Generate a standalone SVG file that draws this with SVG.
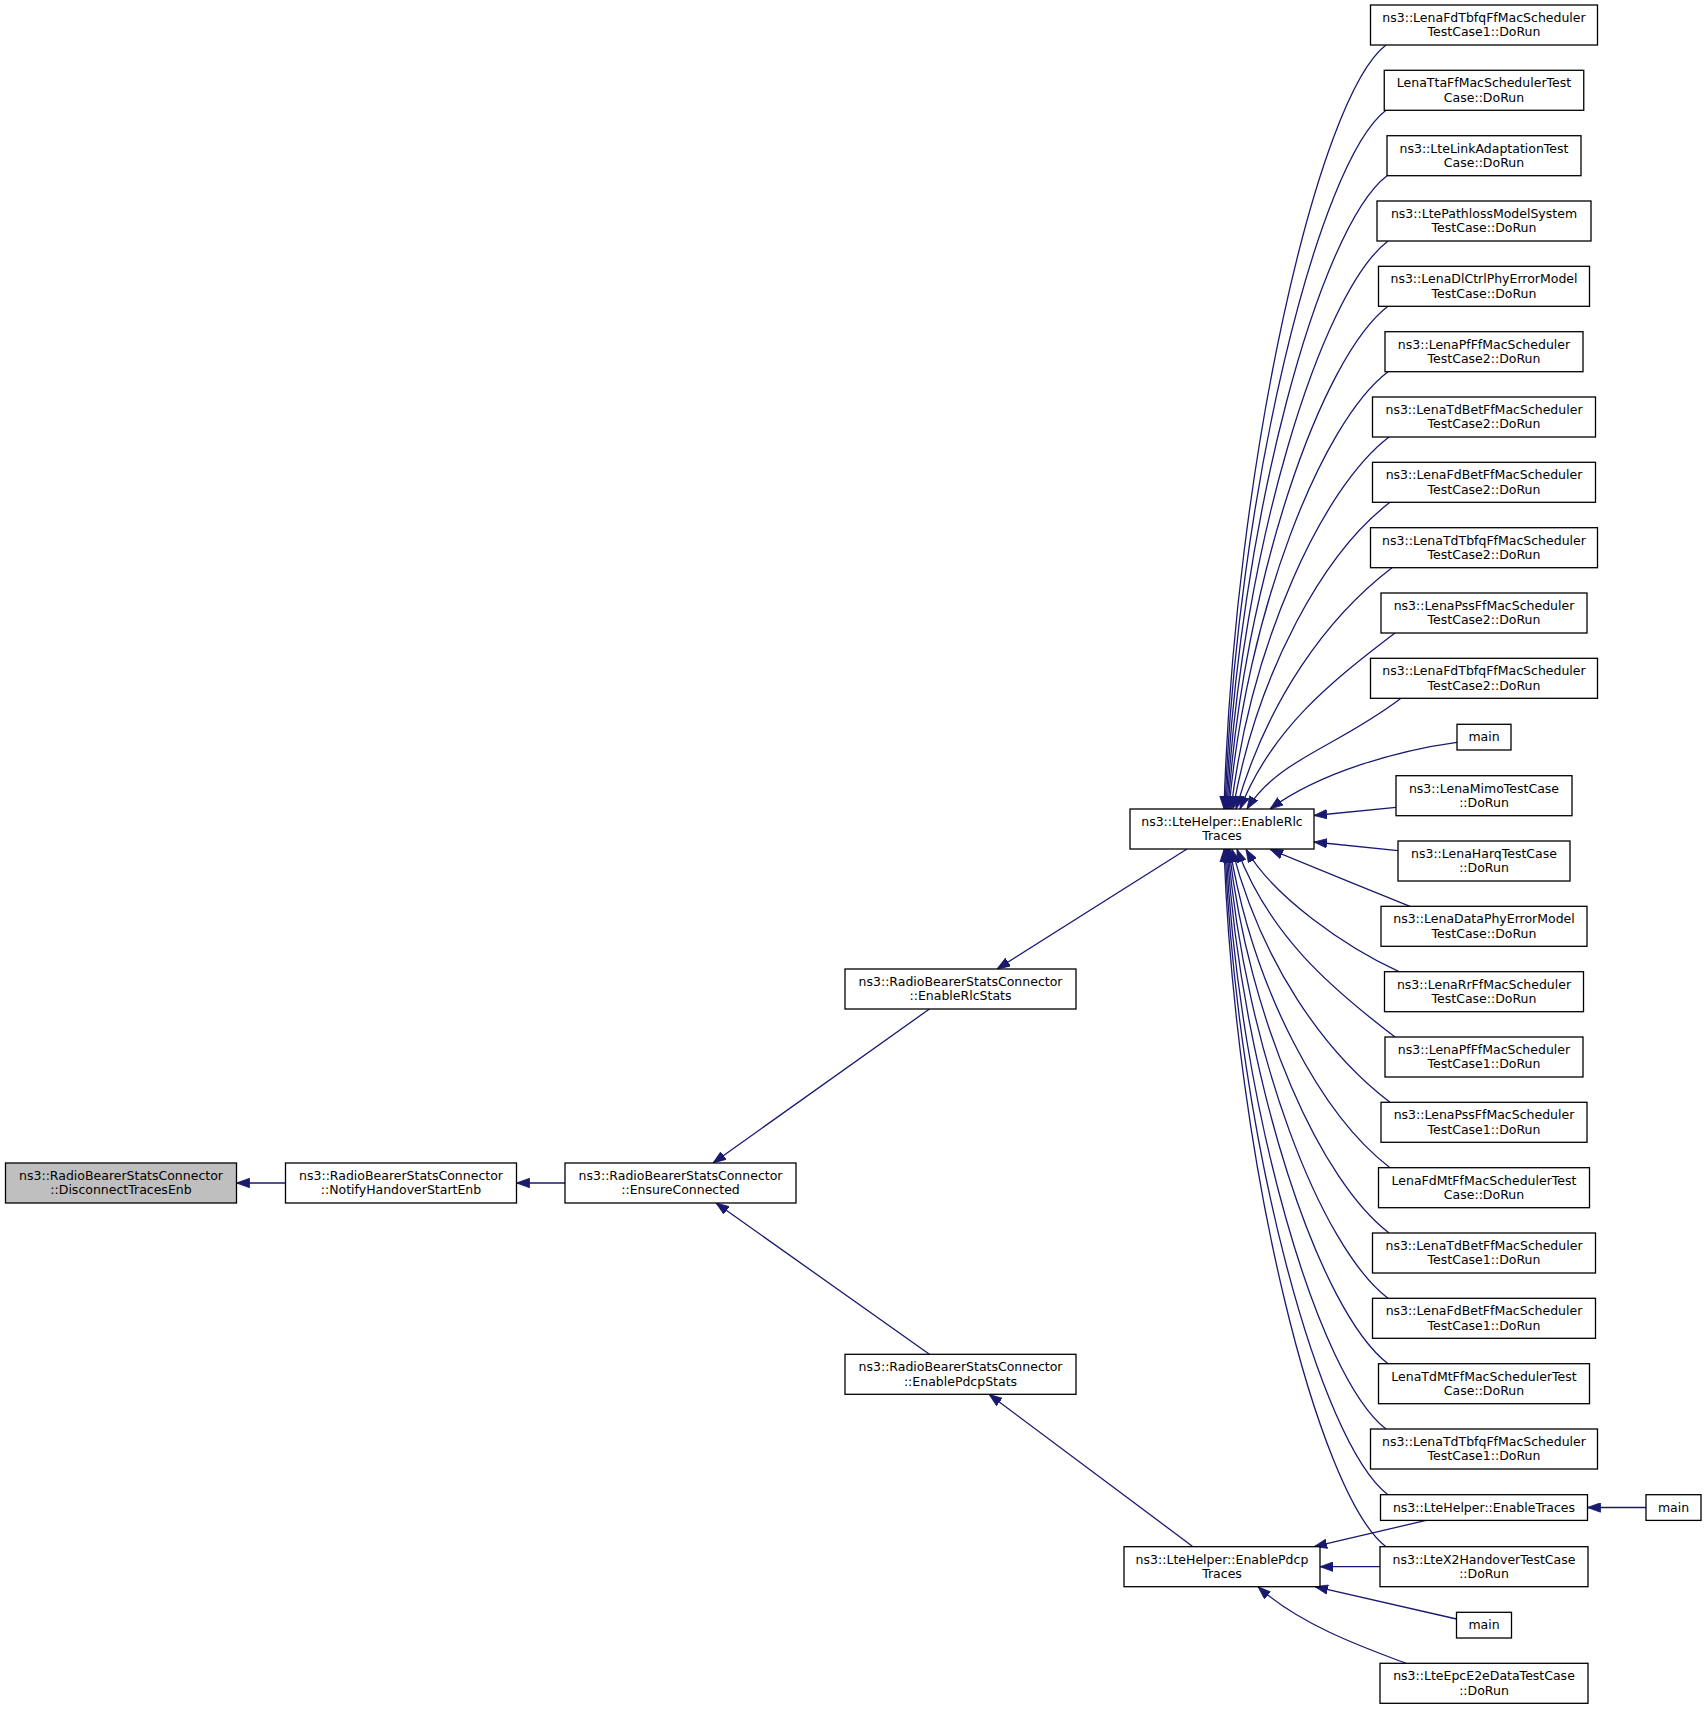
<svg xmlns="http://www.w3.org/2000/svg" width="1707" height="1709" viewBox="0 0 1707 1709">
<style>
.n{fill:#ffffff;stroke:#000000;stroke-width:1.3}
.root{fill:#bfbfbf}
.t{font-family:"DejaVu Sans","Liberation Sans",sans-serif;font-size:12.5px;text-anchor:middle;fill:#000000}
.e{fill:none;stroke:#191970;stroke-width:1.3;marker-end:url(#arr)}
</style>
<defs>
<marker id="arr" viewBox="0 0 13 10" refX="13" refY="5" markerWidth="13" markerHeight="10" markerUnits="userSpaceOnUse" orient="auto">
<path d="M0,0.3 L13,5 L0,9.7 z" fill="#191970" stroke="#191970" stroke-width="0.8"/>
</marker>
</defs>
<rect width="1707" height="1709" fill="#ffffff"/>
<g id="edges">
<path class="e" d="M285.5,1183 L236.5,1183"/>
<path class="e" d="M565,1183 L516.5,1183"/>
<path class="e" d="M929.4,1009 L713,1163"/>
<path class="e" d="M929.4,1354.3 L716,1203"/>
<path class="e" d="M1187,849 L997,969"/>
<path class="e" d="M1193,1546.7 L989,1394.3"/>
<path class="e" d="M1386,45 C1318,96.5 1234.2,465.1 1224,809"/>
<path class="e" d="M1386,110.3 C1318.4,161.8 1236.1,494.6 1225,809"/>
<path class="e" d="M1387,175.7 C1319.4,227.2 1238.3,524 1226,809"/>
<path class="e" d="M1388,241 C1320.4,292.5 1240.7,553.4 1227,809"/>
<path class="e" d="M1388,306.3 C1320.8,357.5 1243.3,582.8 1228,809"/>
<path class="e" d="M1388,371.7 C1321.2,422.6 1246.5,612.2 1229,809"/>
<path class="e" d="M1389,437 C1322.6,487.6 1251.5,641.6 1231,809"/>
<path class="e" d="M1390,502.3 C1324.1,552.5 1257.7,671 1233,809"/>
<path class="e" d="M1392,567.7 C1326.5,617.6 1267.2,700.4 1236,809"/>
<path class="e" d="M1395,633 C1329.9,682.6 1271,729.8 1240,809"/>
<path class="e" d="M1401,698.3 C1336.3,747.6 1277.8,759.2 1247,809"/>
<path class="e" d="M1457,742.3 C1400,750 1320,772 1270,809"/>
<path class="e" d="M1396,807.3 L1314,815.5"/>
<path class="e" d="M1398,850.7 L1314,842"/>
<path class="e" d="M1410,906.3 C1365,888 1305,864 1270,849.3"/>
<path class="e" d="M1399,971.7 C1345,946.5 1273.5,897 1246,849.3"/>
<path class="e" d="M1395,1037 C1328.6,986.4 1268.6,933.8 1237,849.3"/>
<path class="e" d="M1390,1102.3 C1323.6,1051.7 1262.1,963.2 1232,849.3"/>
<path class="e" d="M1390,1167.7 C1322.8,1116.5 1254.2,992.6 1230,849.3"/>
<path class="e" d="M1389,1233 C1321.8,1181.8 1249.1,1022 1229,849.3"/>
<path class="e" d="M1388,1298.3 C1320.8,1247.1 1245.2,1051.3 1228,849.3"/>
<path class="e" d="M1388,1363.7 C1320.4,1312.2 1242.1,1080.8 1227,849.3"/>
<path class="e" d="M1386,1429 C1318.8,1377.8 1239.3,1110.2 1226,849.3"/>
<path class="e" d="M1388,1494.7 C1319.5,1442.5 1237.2,1139.7 1225,849.3"/>
<path class="e" d="M1386,1546.7 C1318,1494.9 1235.2,1163.1 1224,849.3"/>
<path class="e" d="M1646,1507.5 L1587.5,1507.5"/>
<path class="e" d="M1426,1520.4 L1314,1546.7"/>
<path class="e" d="M1380,1566.7 L1320,1566.7"/>
<path class="e" d="M1456.5,1619 L1315,1586.7"/>
<path class="e" d="M1406,1663.3 C1365,1648 1300,1625 1258,1586.7"/>
</g>
<g id="node-disconnect"><rect class="n root" x="5.5" y="1163" width="231" height="40"/><text class="t" x="121" y="1179.8">ns3::RadioBearerStatsConnector</text><text class="t" x="121" y="1194.3">::DisconnectTracesEnb</text></g>
<g id="node-notify"><rect class="n" x="285.5" y="1163" width="231" height="40"/><text class="t" x="401" y="1179.8">ns3::RadioBearerStatsConnector</text><text class="t" x="401" y="1194.3">::NotifyHandoverStartEnb</text></g>
<g id="node-ensure"><rect class="n" x="565" y="1163" width="231" height="40"/><text class="t" x="680.5" y="1179.8">ns3::RadioBearerStatsConnector</text><text class="t" x="680.5" y="1194.3">::EnsureConnected</text></g>
<g id="node-rlcstats"><rect class="n" x="845" y="969" width="231" height="40"/><text class="t" x="960.5" y="985.8">ns3::RadioBearerStatsConnector</text><text class="t" x="960.5" y="1000.3">::EnableRlcStats</text></g>
<g id="node-pdcpstats"><rect class="n" x="845" y="1354.3" width="231" height="40"/><text class="t" x="960.5" y="1371.1">ns3::RadioBearerStatsConnector</text><text class="t" x="960.5" y="1385.6">::EnablePdcpStats</text></g>
<g id="node-rlctraces"><rect class="n" x="1130" y="809" width="184" height="40"/><text class="t" x="1222" y="825.8">ns3::LteHelper::EnableRlc</text><text class="t" x="1222" y="840.3">Traces</text></g>
<g id="node-pdcptraces"><rect class="n" x="1124" y="1546.7" width="196" height="40"/><text class="t" x="1222" y="1563.5">ns3::LteHelper::EnablePdcp</text><text class="t" x="1222" y="1578">Traces</text></g>
<g id="node-r1"><rect class="n" x="1370.5" y="5" width="227" height="40"/><text class="t" x="1484" y="21.8">ns3::LenaFdTbfqFfMacScheduler</text><text class="t" x="1484" y="36.3">TestCase1::DoRun</text></g>
<g id="node-r2"><rect class="n" x="1384.25" y="70.3" width="199.5" height="40"/><text class="t" x="1484" y="87.1">LenaTtaFfMacSchedulerTest</text><text class="t" x="1484" y="101.6">Case::DoRun</text></g>
<g id="node-r3"><rect class="n" x="1387" y="135.7" width="194" height="40"/><text class="t" x="1484" y="152.5">ns3::LteLinkAdaptationTest</text><text class="t" x="1484" y="167">Case::DoRun</text></g>
<g id="node-r4"><rect class="n" x="1377" y="201" width="214" height="40"/><text class="t" x="1484" y="217.8">ns3::LtePathlossModelSystem</text><text class="t" x="1484" y="232.3">TestCase::DoRun</text></g>
<g id="node-r5"><rect class="n" x="1378.5" y="266.3" width="211" height="40"/><text class="t" x="1484" y="283.1">ns3::LenaDlCtrlPhyErrorModel</text><text class="t" x="1484" y="297.6">TestCase::DoRun</text></g>
<g id="node-r6"><rect class="n" x="1385" y="331.7" width="198" height="40"/><text class="t" x="1484" y="348.5">ns3::LenaPfFfMacScheduler</text><text class="t" x="1484" y="363">TestCase2::DoRun</text></g>
<g id="node-r7"><rect class="n" x="1372.5" y="397" width="223" height="40"/><text class="t" x="1484" y="413.8">ns3::LenaTdBetFfMacScheduler</text><text class="t" x="1484" y="428.3">TestCase2::DoRun</text></g>
<g id="node-r8"><rect class="n" x="1372.5" y="462.3" width="223" height="40"/><text class="t" x="1484" y="479.1">ns3::LenaFdBetFfMacScheduler</text><text class="t" x="1484" y="493.6">TestCase2::DoRun</text></g>
<g id="node-r9"><rect class="n" x="1370.5" y="527.7" width="227" height="40"/><text class="t" x="1484" y="544.5">ns3::LenaTdTbfqFfMacScheduler</text><text class="t" x="1484" y="559">TestCase2::DoRun</text></g>
<g id="node-r10"><rect class="n" x="1381" y="593" width="206" height="40"/><text class="t" x="1484" y="609.8">ns3::LenaPssFfMacScheduler</text><text class="t" x="1484" y="624.3">TestCase2::DoRun</text></g>
<g id="node-r11"><rect class="n" x="1370.5" y="658.3" width="227" height="40"/><text class="t" x="1484" y="675.1">ns3::LenaFdTbfqFfMacScheduler</text><text class="t" x="1484" y="689.6">TestCase2::DoRun</text></g>
<g id="node-r12"><rect class="n" x="1457" y="724.3" width="54" height="25.7"/><text class="t" x="1484" y="741.2">main</text></g>
<g id="node-r13"><rect class="n" x="1396" y="775.7" width="176" height="40"/><text class="t" x="1484" y="792.5">ns3::LenaMimoTestCase</text><text class="t" x="1484" y="807">::DoRun</text></g>
<g id="node-r14"><rect class="n" x="1398" y="841" width="172" height="40"/><text class="t" x="1484" y="857.8">ns3::LenaHarqTestCase</text><text class="t" x="1484" y="872.3">::DoRun</text></g>
<g id="node-r15"><rect class="n" x="1381" y="906.3" width="206" height="40"/><text class="t" x="1484" y="923.1">ns3::LenaDataPhyErrorModel</text><text class="t" x="1484" y="937.6">TestCase::DoRun</text></g>
<g id="node-r16"><rect class="n" x="1384.5" y="971.7" width="199" height="40"/><text class="t" x="1484" y="988.5">ns3::LenaRrFfMacScheduler</text><text class="t" x="1484" y="1003">TestCase::DoRun</text></g>
<g id="node-r17"><rect class="n" x="1385" y="1037" width="198" height="40"/><text class="t" x="1484" y="1053.8">ns3::LenaPfFfMacScheduler</text><text class="t" x="1484" y="1068.3">TestCase1::DoRun</text></g>
<g id="node-r18"><rect class="n" x="1381" y="1102.3" width="206" height="40"/><text class="t" x="1484" y="1119.1">ns3::LenaPssFfMacScheduler</text><text class="t" x="1484" y="1133.6">TestCase1::DoRun</text></g>
<g id="node-r19"><rect class="n" x="1378.5" y="1167.7" width="211" height="40"/><text class="t" x="1484" y="1184.5">LenaFdMtFfMacSchedulerTest</text><text class="t" x="1484" y="1199">Case::DoRun</text></g>
<g id="node-r20"><rect class="n" x="1372.5" y="1233" width="223" height="40"/><text class="t" x="1484" y="1249.8">ns3::LenaTdBetFfMacScheduler</text><text class="t" x="1484" y="1264.3">TestCase1::DoRun</text></g>
<g id="node-r21"><rect class="n" x="1372.5" y="1298.3" width="223" height="40"/><text class="t" x="1484" y="1315.1">ns3::LenaFdBetFfMacScheduler</text><text class="t" x="1484" y="1329.6">TestCase1::DoRun</text></g>
<g id="node-r22"><rect class="n" x="1378.5" y="1363.7" width="211" height="40"/><text class="t" x="1484" y="1380.5">LenaTdMtFfMacSchedulerTest</text><text class="t" x="1484" y="1395">Case::DoRun</text></g>
<g id="node-r23"><rect class="n" x="1370.5" y="1429" width="227" height="40"/><text class="t" x="1484" y="1445.8">ns3::LenaTdTbfqFfMacScheduler</text><text class="t" x="1484" y="1460.3">TestCase1::DoRun</text></g>
<g id="node-enabletraces"><rect class="n" x="1380.5" y="1494.7" width="207" height="25.7"/><text class="t" x="1484" y="1511.6">ns3::LteHelper::EnableTraces</text></g>
<g id="node-main-traces"><rect class="n" x="1646" y="1494.7" width="55" height="25.7"/><text class="t" x="1673.5" y="1511.6">main</text></g>
<g id="node-x2handover"><rect class="n" x="1380" y="1546.7" width="208" height="40"/><text class="t" x="1484" y="1563.5">ns3::LteX2HandoverTestCase</text><text class="t" x="1484" y="1578">::DoRun</text></g>
<g id="node-main-pdcp"><rect class="n" x="1456.5" y="1612.3" width="55" height="25.7"/><text class="t" x="1484" y="1629.2">main</text></g>
<g id="node-epce2e"><rect class="n" x="1380" y="1663.3" width="208" height="40"/><text class="t" x="1484" y="1680.1">ns3::LteEpcE2eDataTestCase</text><text class="t" x="1484" y="1694.6">::DoRun</text></g>
</svg>
